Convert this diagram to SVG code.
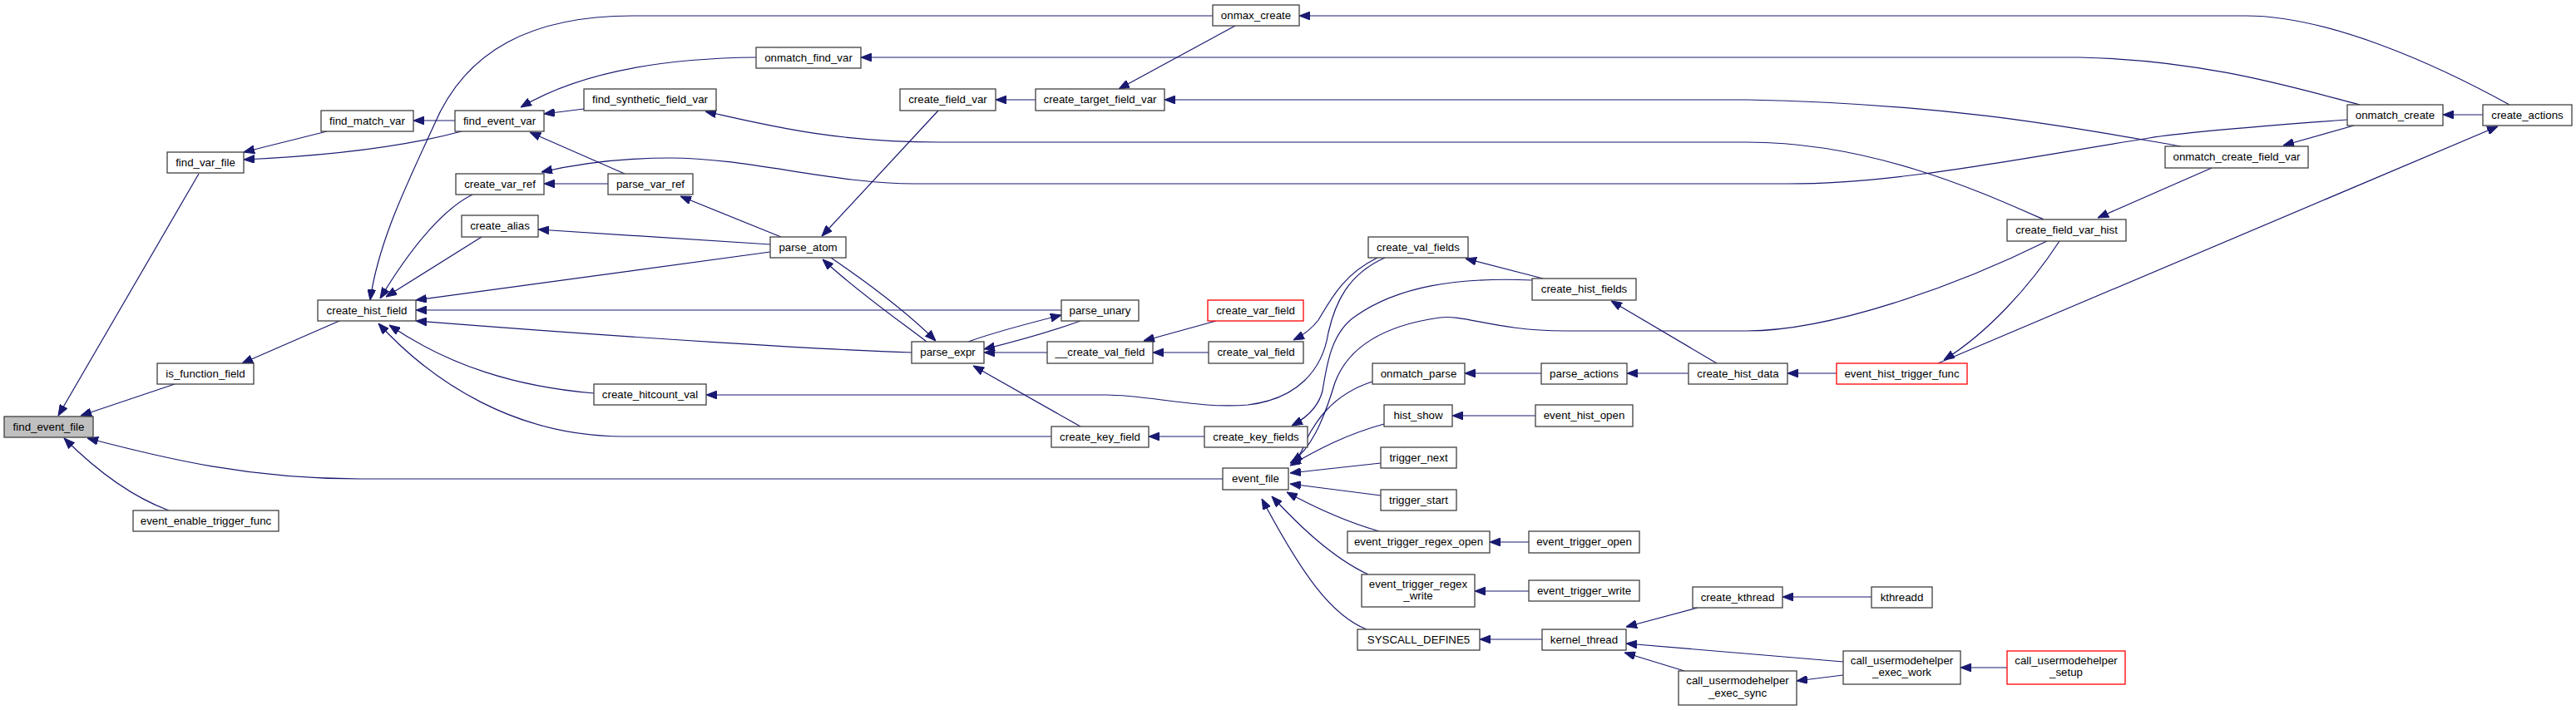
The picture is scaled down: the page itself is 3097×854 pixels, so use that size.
<svg xmlns="http://www.w3.org/2000/svg" width="3097" height="854" viewBox="0 0 3097 854">
<style>
.n rect{fill:#fff;stroke:#404040;stroke-width:1.3}
.root rect{fill:#bfbfbf}
.red rect{stroke:#ff0000}
text{font-family:"Liberation Sans",Arial,sans-serif;font-size:13.3px;fill:#000;text-anchor:middle}
.e path{fill:none;stroke:#191970;stroke-width:1.2;marker-end:url(#ah)}
</style>
<defs>
<marker id="ah" viewBox="0 0 13 10" refX="13" refY="5" markerUnits="userSpaceOnUse" markerWidth="13" markerHeight="10" orient="auto">
<path d="M0,0 L13,5 L0,10 z" fill="#191970" stroke="#191970"/>
</marker>
</defs>
<rect width="3097" height="854" fill="#fff"/>
<g class="e" id="edges">
<path d="M239,209 L70,500"/>
<path d="M210,462 L97,500"/>
<path d="M1470,576 L433,576 C300,576 200,552 105,527"/>
<path d="M203,614 C165,600 125,575 77,527"/>
<path d="M393,158 L293,183"/>
<path d="M555,158 C480,178 380,188 293,192"/>
<path d="M547,145 L497,145"/>
<path d="M1458,19 L760,19 C640,19 560,60 522,150 C490,220 455,290 445,361"/>
<path d="M909,69 C800,70 700,85 626,129"/>
<path d="M702,131 L654,137"/>
<path d="M751,209 L637,159"/>
<path d="M731,221 L654,221"/>
<path d="M2822,144 C2700,153 2620,160 2584,166 C2420,192 2280,221 2150,221 L1100,221 C1000,221 900,190 806,190 C740,190 690,198 651,207"/>
<path d="M2457,264 C2380,230 2250,171 2100,171 L1130,171 C1000,171 920,150 848,134"/>
<path d="M3017,126 C2930,78 2800,19 2700,19 L1562,19"/>
<path d="M2837,126 C2760,106 2650,72 2500,69 L1035,69"/>
<path d="M2985,138 L2937,138"/>
<path d="M2830,151 L2745,175"/>
<path d="M2622,176 C2500,155 2350,125 2100,120 L1400,120"/>
<path d="M2659,202 L2522,262"/>
<path d="M2330,437 L3003,152"/>
<path d="M2476,290 C2440,345 2390,400 2337,433"/>
<path d="M2461,290 C2350,345 2200,398 2100,398 L1881,398 C1800,398 1760,378 1731,382 C1660,392 1620,420 1605,460 C1590,510 1575,540 1553,556"/>
<path d="M1485,31 L1345,107"/>
<path d="M1245,120 L1197,120"/>
<path d="M1128,133 L988,284"/>
<path d="M568,234 C540,248 505,280 457,359"/>
<path d="M579,285 L464,357"/>
<path d="M926,303 L500,361"/>
<path d="M1276,373 L500,373"/>
<path d="M1096,424 C1000,421 780,408 500,386"/>
<path d="M714,473 C620,465 540,440 468,391"/>
<path d="M1264,525 L750,525 C620,525 520,460 455,389"/>
<path d="M408,386 L291,437"/>
<path d="M926,294 L647,276"/>
<path d="M939,285 L818,236"/>
<path d="M999,310 C1040,338 1090,375 1125,410"/>
<path d="M1114,411 C1080,385 1030,350 989,312"/>
<path d="M1164,411 C1200,398 1240,388 1276,379"/>
<path d="M1299,386 C1260,400 1220,411 1183,420"/>
<path d="M1259,424 L1183,424"/>
<path d="M1299,513 L1170,440"/>
<path d="M1462,386 L1375,410"/>
<path d="M1453,424 L1386,424"/>
<path d="M1448,525 L1381,525"/>
<path d="M1656,310 C1615,330 1600,360 1585,385 C1575,398 1565,404 1555,409"/>
<path d="M1665,310 C1620,330 1605,365 1597,400 C1590,445 1560,480 1500,487 C1440,492 1380,475 1330,475 L849,475"/>
<path d="M1855,335 L1762,311"/>
<path d="M1842,337 C1750,333 1680,345 1630,380 C1600,400 1595,440 1590,470 C1585,490 1570,503 1553,512"/>
<path d="M2064,437 L1937,362"/>
<path d="M2208,449 L2149,449"/>
<path d="M2030,449 L1956,449"/>
<path d="M1853,449 L1761,449"/>
<path d="M1650,459 C1600,475 1580,510 1570,530 C1565,545 1560,552 1551,557"/>
<path d="M1664,510 C1620,522 1585,540 1551,560"/>
<path d="M1660,557 L1551,569"/>
<path d="M1660,596 L1551,582"/>
<path d="M1658,639 C1620,628 1580,610 1547,592"/>
<path d="M1645,691 C1600,670 1560,630 1529,597"/>
<path d="M1643,757 C1600,740 1565,690 1517,600"/>
<path d="M1846,500 L1746,500"/>
<path d="M1838,652 L1791,652"/>
<path d="M1838,711 L1773,711"/>
<path d="M1854,769 L1779,769"/>
<path d="M2041,731 L1955,754"/>
<path d="M2216,796 L1955,774"/>
<path d="M2025,807 L1953,785"/>
<path d="M2216,812 L2160,819"/>
<path d="M2413,803 L2357,803"/>
<path d="M2250,718 L2143,718"/>
</g>
<g id="find_event_file" class="n root"><rect x="5" y="501" width="107" height="25"/><text x="58.5" y="518">find_event_file</text></g>
<g id="find_var_file" class="n"><rect x="201" y="183" width="92" height="25"/><text x="247" y="200">find_var_file</text></g>
<g id="find_match_var" class="n"><rect x="386" y="133" width="111" height="25"/><text x="441.5" y="150">find_match_var</text></g>
<g id="create_hist_field" class="n"><rect x="382" y="361" width="118" height="25"/><text x="441" y="378">create_hist_field</text></g>
<g id="is_function_field" class="n"><rect x="189" y="437" width="116" height="25"/><text x="247" y="454">is_function_field</text></g>
<g id="event_enable_trigger_func" class="n"><rect x="160" y="614" width="175" height="25"/><text x="247.5" y="631">event_enable_trigger_func</text></g>
<g id="find_event_var" class="n"><rect x="547" y="133" width="107" height="25"/><text x="600.5" y="150">find_event_var</text></g>
<g id="onmatch_find_var" class="n"><rect x="909" y="57" width="126" height="25"/><text x="972" y="74">onmatch_find_var</text></g>
<g id="find_synthetic_field_var" class="n"><rect x="702" y="107" width="159" height="26"/><text x="781.5" y="124">find_synthetic_field_var</text></g>
<g id="create_var_ref" class="n"><rect x="548" y="209" width="106" height="25"/><text x="601" y="226">create_var_ref</text></g>
<g id="parse_var_ref" class="n"><rect x="731" y="209" width="102" height="25"/><text x="782" y="226">parse_var_ref</text></g>
<g id="create_alias" class="n"><rect x="555" y="259" width="92" height="26"/><text x="601" y="276">create_alias</text></g>
<g id="parse_atom" class="n"><rect x="926" y="285" width="91" height="25"/><text x="971.5" y="302">parse_atom</text></g>
<g id="create_hitcount_val" class="n"><rect x="714" y="462" width="135" height="25"/><text x="781.5" y="479">create_hitcount_val</text></g>
<g id="onmax_create" class="n"><rect x="1458" y="6" width="104" height="25"/><text x="1510" y="23">onmax_create</text></g>
<g id="create_field_var" class="n"><rect x="1082" y="107" width="115" height="26"/><text x="1139.5" y="124">create_field_var</text></g>
<g id="create_target_field_var" class="n"><rect x="1245" y="107" width="155" height="26"/><text x="1322.5" y="124">create_target_field_var</text></g>
<g id="parse_unary" class="n"><rect x="1276" y="361" width="93" height="25"/><text x="1322.5" y="378">parse_unary</text></g>
<g id="create_var_field" class="n red"><rect x="1452" y="361" width="115" height="25"/><text x="1509.5" y="378">create_var_field</text></g>
<g id="parse_expr" class="n"><rect x="1096" y="411" width="87" height="26"/><text x="1139.5" y="428">parse_expr</text></g>
<g id="__create_val_field" class="n"><rect x="1259" y="411" width="127" height="26"/><text x="1322.5" y="428">__create_val_field</text></g>
<g id="create_val_field" class="n"><rect x="1453" y="411" width="114" height="26"/><text x="1510" y="428">create_val_field</text></g>
<g id="create_key_field" class="n"><rect x="1264" y="513" width="117" height="25"/><text x="1322.5" y="530">create_key_field</text></g>
<g id="create_key_fields" class="n"><rect x="1448" y="513" width="124" height="25"/><text x="1510" y="530">create_key_fields</text></g>
<g id="event_file" class="n"><rect x="1470" y="563" width="79" height="26"/><text x="1509.5" y="580">event_file</text></g>
<g id="create_val_fields" class="n"><rect x="1645" y="285" width="120" height="25"/><text x="1705" y="302">create_val_fields</text></g>
<g id="create_hist_fields" class="n"><rect x="1842" y="335" width="125" height="26"/><text x="1904.5" y="352">create_hist_fields</text></g>
<g id="onmatch_parse" class="n"><rect x="1650" y="437" width="111" height="25"/><text x="1705.5" y="454">onmatch_parse</text></g>
<g id="parse_actions" class="n"><rect x="1853" y="437" width="103" height="25"/><text x="1904.5" y="454">parse_actions</text></g>
<g id="create_hist_data" class="n"><rect x="2030" y="437" width="119" height="25"/><text x="2089.5" y="454">create_hist_data</text></g>
<g id="hist_show" class="n"><rect x="1664" y="487" width="82" height="26"/><text x="1705" y="504">hist_show</text></g>
<g id="event_hist_open" class="n"><rect x="1846" y="487" width="117" height="26"/><text x="1904.5" y="504">event_hist_open</text></g>
<g id="trigger_next" class="n"><rect x="1660" y="538" width="91" height="25"/><text x="1705.5" y="555">trigger_next</text></g>
<g id="trigger_start" class="n"><rect x="1660" y="589" width="91" height="25"/><text x="1705.5" y="606">trigger_start</text></g>
<g id="event_trigger_regex_open" class="n"><rect x="1620" y="639" width="171" height="26"/><text x="1705.5" y="656">event_trigger_regex_open</text></g>
<g id="event_trigger_open" class="n"><rect x="1838" y="639" width="133" height="26"/><text x="1904.5" y="656">event_trigger_open</text></g>
<g id="event_trigger_regex_write" class="n"><rect x="1637" y="691" width="136" height="39"/><text x="1705" y="707">event_trigger_regex</text><text x="1705" y="721">_write</text></g>
<g id="event_trigger_write" class="n"><rect x="1838" y="698" width="133" height="25"/><text x="1904.5" y="715">event_trigger_write</text></g>
<g id="SYSCALL_DEFINE5" class="n"><rect x="1632" y="757" width="147" height="25"/><text x="1705.5" y="774">SYSCALL_DEFINE5</text></g>
<g id="kernel_thread" class="n"><rect x="1854" y="757" width="101" height="25"/><text x="1904.5" y="774">kernel_thread</text></g>
<g id="create_kthread" class="n"><rect x="2035" y="706" width="108" height="25"/><text x="2089" y="723">create_kthread</text></g>
<g id="kthreadd" class="n"><rect x="2250" y="706" width="73" height="25"/><text x="2286.5" y="723">kthreadd</text></g>
<g id="call_usermodehelper_exec_sync" class="n"><rect x="2018" y="807" width="142" height="41"/><text x="2089" y="823">call_usermodehelper</text><text x="2089" y="838">_exec_sync</text></g>
<g id="call_usermodehelper_exec_work" class="n"><rect x="2216" y="783" width="141" height="40"/><text x="2286.5" y="799">call_usermodehelper</text><text x="2286.5" y="813">_exec_work</text></g>
<g id="call_usermodehelper_setup" class="n red"><rect x="2413" y="783" width="142" height="40"/><text x="2484" y="799">call_usermodehelper</text><text x="2484" y="813">_setup</text></g>
<g id="create_field_var_hist" class="n"><rect x="2413" y="264" width="143" height="26"/><text x="2484.5" y="281">create_field_var_hist</text></g>
<g id="event_hist_trigger_func" class="n red"><rect x="2208" y="437" width="157" height="25"/><text x="2286.5" y="454">event_hist_trigger_func</text></g>
<g id="onmatch_create" class="n"><rect x="2822" y="126" width="115" height="25"/><text x="2879.5" y="143">onmatch_create</text></g>
<g id="create_actions" class="n"><rect x="2985" y="126" width="107" height="25"/><text x="3038.5" y="143">create_actions</text></g>
<g id="onmatch_create_field_var" class="n"><rect x="2603" y="176" width="172" height="26"/><text x="2689" y="193">onmatch_create_field_var</text></g>
</svg>
